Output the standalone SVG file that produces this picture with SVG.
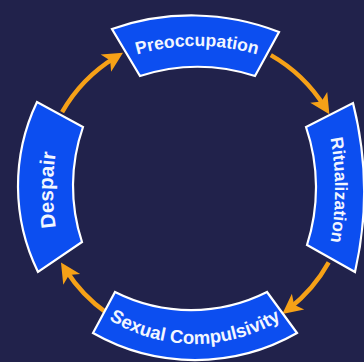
<svg xmlns="http://www.w3.org/2000/svg" width="364" height="362" viewBox="0 0 364 362">
  <style>
    .stage { fill: #0c4ef0; stroke: #ffffff; stroke-width: 2.2; stroke-linejoin: miter; }
    .label { fill: #f2f6ff; font-family: "Liberation Sans", Arial, Helvetica, sans-serif; font-weight: bold; }
    .flow { fill: none; stroke: #f6a117; stroke-width: 4.5; }
  </style>
  <defs>
    <marker id="head" markerUnits="userSpaceOnUse" markerWidth="22" markerHeight="22" viewBox="0 0 22 22" refX="12" refY="11" orient="auto">
      <path d="M1,1 L21,11 L1,21 L6,11 Z" fill="#f6a117"/>
    </marker>
    <path id="arcTop" d="M58.2,96.5 A216,216 0 0 1 335.8,96.5"/>
    <path id="arcRight" d="M306.9,63.2 A300,300 0 0 1 306.9,316.8"/>
    <path id="arcLeft" d="M76.4,295.7 A250,250 0 0 1 76.4,84.3"/>
    <path id="arcBottom" d="M69.4,285.4 A164,164 0 0 0 320.6,285.4"/>
  </defs>

  <rect width="364" height="362" fill="#21224b"/>

  <!-- cycle connectors -->
  <g id="connectors">
    <path class="flow" d="M270.8,55.1 A153,153 0 0 1 324.6,106.7" marker-end="url(#head)"/>
    <path class="flow" d="M328.7,262.4 A153,153 0 0 1 289.4,308.4" marker-end="url(#head)"/>
    <path class="flow" d="M107.2,313.3 A153,153 0 0 1 65.8,270.0" marker-end="url(#head)"/>
    <path class="flow" d="M62.1,112.2 A153,153 0 0 1 115.3,57.4" marker-end="url(#head)"/>
  </g>

  <g id="preoccupation">
    <path class="stage" d="M112,29 A240,240 0 0 1 279,32 L255,76 A188,188 0 0 0 140,76 Z"/>
    <text class="label" font-size="17.5"><textPath href="#arcTop" startOffset="50%" text-anchor="middle">Preoccupation</textPath></text>
  </g>

  <g id="ritualization">
    <path class="stage" d="M353,103 A362,362 0 0 1 355,272 L307,245 A188,188 0 0 0 306,127 Z"/>
    <text class="label" font-size="17.5"><textPath href="#arcRight" startOffset="50%" text-anchor="middle">Ritualization</textPath></text>
  </g>

  <g id="sexual-compulsivity">
    <path class="stage" d="M267,292 L297,333 A206,206 0 0 1 93,333 L115,292 A169,169 0 0 0 267,292 Z"/>
    <text class="label" font-size="18.5"><textPath href="#arcBottom" startOffset="50%" text-anchor="middle">Sexual Compulsivity</textPath></text>
  </g>

  <g id="despair">
    <path class="stage" d="M38,272 A195,195 0 0 1 37,102 L83,127 A179,179 0 0 0 82,242 Z"/>
    <text class="label" font-size="20.5"><textPath href="#arcLeft" startOffset="50%" text-anchor="middle">Despair</textPath></text>
  </g>
</svg>
